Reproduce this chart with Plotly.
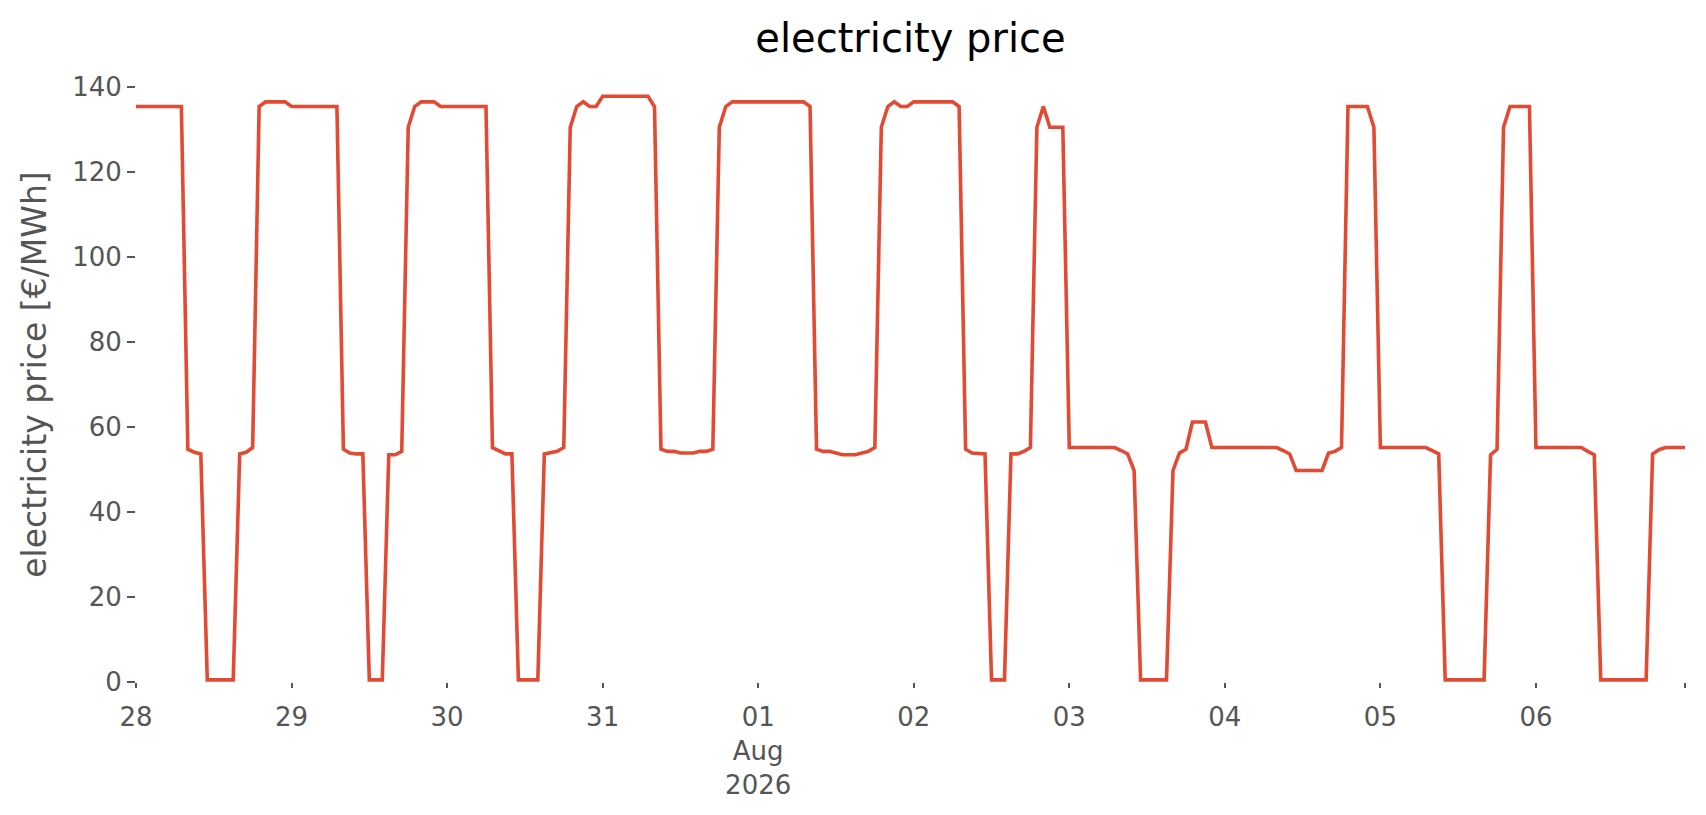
import pandas as pd
import plotly.graph_objects as go

# hourly electricity price, one list per day (EUR/MWh)
jul28 = [135.5, 135.5, 135.5, 135.5, 135.5, 135.5, 135.5, 135.5, 54.8, 54.1, 53.7, 0.5,
         0.5, 0.5, 0.5, 0.5, 53.7, 54.1, 55.2, 135.5, 136.6, 136.6, 136.6, 136.6]
jul29 = [135.5, 135.5, 135.5, 135.5, 135.5, 135.5, 135.5, 135.5, 54.8, 53.9, 53.7, 53.7,
         0.5, 0.5, 0.5, 53.5, 53.5, 54.3, 130.6, 135.5, 136.6, 136.6, 136.6, 135.5]
jul30 = [135.5, 135.5, 135.5, 135.5, 135.5, 135.5, 135.5, 55.2, 54.5, 53.7, 53.7, 0.5,
         0.5, 0.5, 0.5, 53.7, 54.1, 54.3, 55.2, 130.6, 135.5, 136.6, 135.5, 135.5]
jul31 = [137.9, 137.9, 137.9, 137.9, 137.9, 137.9, 137.9, 137.9, 135.5, 54.8, 54.3, 54.3,
         53.9, 53.9, 53.9, 54.3, 54.3, 54.8, 130.6, 135.5, 136.6, 136.6, 136.6, 136.6]
aug01 = [136.6, 136.6, 136.6, 136.6, 136.6, 136.6, 136.6, 136.6, 135.5, 54.8, 54.3, 54.3,
         53.9, 53.5, 53.5, 53.5, 53.9, 54.3, 55.2, 130.6, 135.5, 136.6, 135.5, 135.5]
aug02 = [136.6, 136.6, 136.6, 136.6, 136.6, 136.6, 136.6, 135.5, 54.8, 53.9, 53.7, 53.7,
         0.5, 0.5, 0.5, 53.7, 53.7, 54.3, 55.2, 130.6, 135.5, 130.6, 130.6, 130.6]
aug03 = [55.2, 55.2, 55.2, 55.2, 55.2, 55.2, 55.2, 55.2, 54.5, 53.7, 49.8, 0.5,
         0.5, 0.5, 0.5, 0.5, 49.8, 53.9, 54.8, 61.2, 61.2, 61.2, 55.2, 55.2]
aug04 = [55.2, 55.2, 55.2, 55.2, 55.2, 55.2, 55.2, 55.2, 55.2, 54.5, 53.7, 49.8,
         49.8, 49.8, 49.8, 49.8, 53.9, 54.3, 55.2, 135.5, 135.5, 135.5, 135.5, 130.6]
aug05 = [55.2, 55.2, 55.2, 55.2, 55.2, 55.2, 55.2, 55.2, 54.5, 53.7, 0.5, 0.5,
         0.5, 0.5, 0.5, 0.5, 0.5, 53.5, 54.8, 130.6, 135.5, 135.5, 135.5, 135.5]
aug06 = [55.2, 55.2, 55.2, 55.2, 55.2, 55.2, 55.2, 55.2, 54.3, 53.5, 0.5, 0.5,
         0.5, 0.5, 0.5, 0.5, 0.5, 0.5, 53.7, 54.7, 55.2, 55.2, 55.2, 55.2]

days = [jul28, jul29, jul30, jul31, aug01, aug02, aug03, aug04, aug05, aug06]
start = "2026-07-28 00:00"

# x tick labels in pandas style
tick_dates = ["2026-07-28 00:00", "2026-07-29 00:00", "2026-07-30 00:00", "2026-07-31 00:00",
              "2026-08-01 00:00", "2026-08-02 00:00", "2026-08-03 00:00", "2026-08-04 00:00",
              "2026-08-05 00:00", "2026-08-06 00:00", "2026-08-06 23:00"]
tick_text = ["28", "29", "30", "31", "01<br>Aug<br>2026", "02", "03", "04", "05", "06", ""]

prices = [v for day in days for v in day]
times = pd.date_range(start, periods=len(prices), freq="h")

fig = go.Figure()
fig.add_trace(
    go.Scatter(
        x=times,
        y=prices,
        mode="lines",
        line=dict(color="#E24A33", width=3.6),
        showlegend=False,
    )
)

fig.update_layout(
    width=1706,
    height=815,
    plot_bgcolor="white",
    paper_bgcolor="white",
    font=dict(family="DejaVu Sans", color="#555555"),
    margin=dict(l=136, r=21, t=67, b=133),
    title=dict(
        text="electricity price",
        x=0.5,
        xref="paper",
        xanchor="center",
        y=1 - 38 / 815,
        yanchor="middle",
        font=dict(size=40, color="black"),
    ),
)

fig.update_xaxes(
    range=[times[0], times[-1]],
    tickvals=pd.to_datetime(tick_dates),
    ticktext=tick_text,
    tickfont=dict(size=26, color="#555555"),
    ticks="outside",
    ticklen=5,
    tickwidth=1.5,
    tickcolor="#555555",
    ticklabelstandoff=7,
    showgrid=False,
    showline=False,
    zeroline=False,
)

fig.update_yaxes(
    title=dict(text="electricity price [€/MWh]", font=dict(size=33, color="#555555"), standoff=15),
    range=[0, 144.8],
    tickvals=[0, 20, 40, 60, 80, 100, 120, 140],
    tickfont=dict(size=26, color="#555555"),
    ticks="outside",
    ticklen=8,
    tickwidth=1.5,
    tickcolor="#555555",
    showgrid=False,
    showline=False,
    zeroline=False,
)

# drop the default page margin so the figure sits at the window corner
fig.write_html(
    "out.html",
    config={"displayModeBar": False},
    post_script="document.body.style.margin = '0';",
)
